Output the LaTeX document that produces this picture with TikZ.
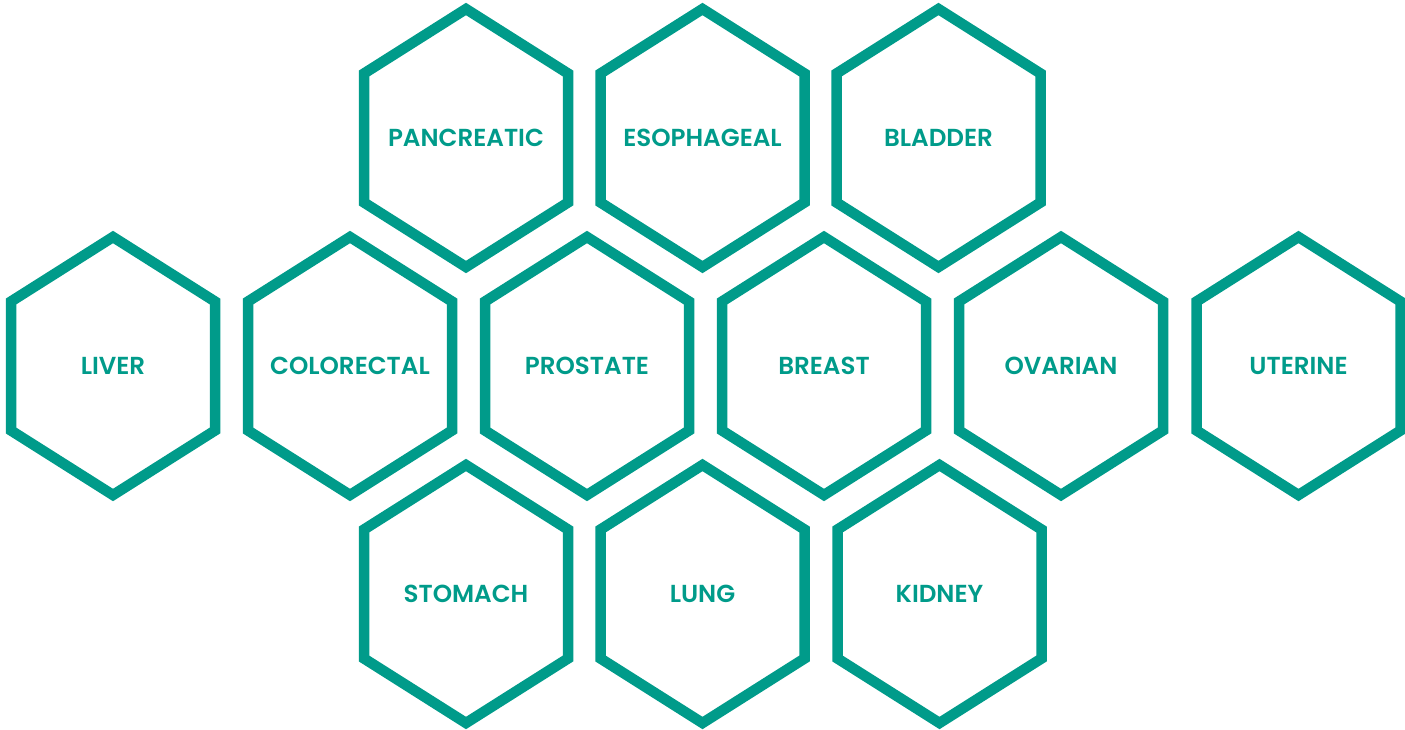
\documentclass[tikz,border=0pt]{standalone}
\usepackage{fontspec}
\newfontfamily\hexfont{Poppins SemiBold}
\definecolor{teal}{RGB}{0,155,138}
\tikzset{
  hexline/.style={draw=teal, line width=10.5pt, line join=miter},
  hexlabel/.style={text=teal, font=\hexfont\fontsize{24.6}{28}\selectfont, inner sep=0pt}
}
\newcommand{\hexcell}[4]{%
  \node[hexlabel] (#1) at (#2,#3) {#4};
  \draw[hexline] ($(#1.center)+(0,129)$) -- ++(102,-64.5) -- ++(0,-129) -- ++(-102,-64.5) -- ++(-102,64.5) -- ++(0,129) -- cycle;
}
\usetikzlibrary{calc}
\begin{document}
\begin{tikzpicture}[x=1pt,y=-1pt]
\useasboundingbox (0,0) rectangle (1405,730);
\hexcell{pancreatic}{466}{138}{PANCREATIC}
\hexcell{esophageal}{702.5}{138}{ESOPHAGEAL}
\hexcell{bladder}{938.5}{138}{BLADDER}
\hexcell{liver}{113}{366}{LIVER}
\hexcell{colorectal}{350}{366}{COLORECTAL}
\hexcell{prostate}{587}{366}{PROSTATE}
\hexcell{breast}{824}{366}{BREAST}
\hexcell{ovarian}{1061}{366}{OVARIAN}
\hexcell{uterine}{1298.5}{366}{UTERINE}
\hexcell{stomach}{466}{594}{STOMACH}
\hexcell{lung}{702.5}{594}{LUNG}
\hexcell{kidney}{939.5}{594}{KIDNEY}
\end{tikzpicture}
\end{document}
